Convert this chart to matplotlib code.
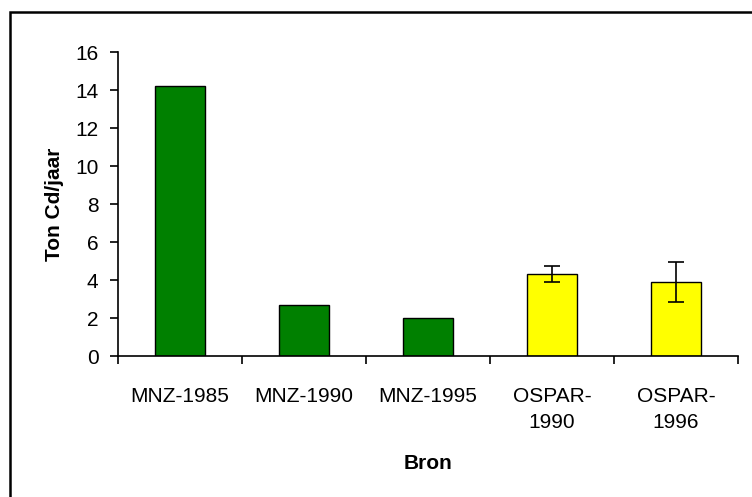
import matplotlib
matplotlib.use("Agg")
from matplotlib import pyplot as plt
from matplotlib.patches import Rectangle

plt.rcParams['font.family'] = ['Liberation Sans', 'DejaVu Sans']

# data
bronnen = ['MNZ-1985', 'MNZ-1990', 'MNZ-1995', 'OSPAR-\n1990', 'OSPAR-\n1996']
waarden = [14.2, 2.7, 2.0, 4.3, 3.9]
fouten = [0, 0, 0, 0.43, 1.05]
kleuren = ['#008000', '#008000', '#008000', '#FFFF00', '#FFFF00']

fig = plt.figure(figsize=(7.52, 4.97), dpi=100)
ax = fig.add_axes([118/752, 1 - 356/497, 620/752, 304/497])

x = list(range(len(bronnen)))
ax.bar(x, waarden, width=0.4, color=kleuren, edgecolor='black', linewidth=1.0, zorder=2)
# error bars only on the OSPAR bars
for i in range(len(bronnen)):
    if fouten[i] > 0:
        ax.errorbar(x[i], waarden[i], yerr=fouten[i], fmt='none', ecolor='black',
                    elinewidth=1.2, capsize=6, capthick=1.2, zorder=3)

ax.set_xlim(-0.5, len(bronnen) - 0.5)
ax.set_ylim(0, 16)
ax.set_yticks(range(0, 17, 2))
ax.set_xticks(x)
ax.set_xticklabels(bronnen, fontsize=15, linespacing=1.5)
ax.set_xticks([i - 0.5 for i in range(len(bronnen) + 1)], minor=True)
ax.tick_params(axis='x', which='major', length=0, pad=22)
ax.tick_params(axis='x', which='minor', length=6, width=1.2, direction='out')
ax.tick_params(axis='y', labelsize=15, length=6, width=1.2, pad=8)

for s in ['top', 'right']:
    ax.spines[s].set_visible(False)
ax.spines['left'].set_linewidth(1.2)
ax.spines['bottom'].set_linewidth(1.2)

ax.set_ylabel('Ton Cd/jaar', fontsize=15, fontweight='bold', labelpad=8)
ax.set_xlabel('Bron', fontsize=15, fontweight='bold', labelpad=16)

# frame around the chart area (runs off the right and bottom edge)
fig.patches.append(Rectangle((10/752, -0.1), 1.2, 1 - 12/497 + 0.1, transform=fig.transFigure,
                             fill=False, edgecolor='black', linewidth=1.8, clip_on=False))

fig.savefig('out.png', dpi=100)
